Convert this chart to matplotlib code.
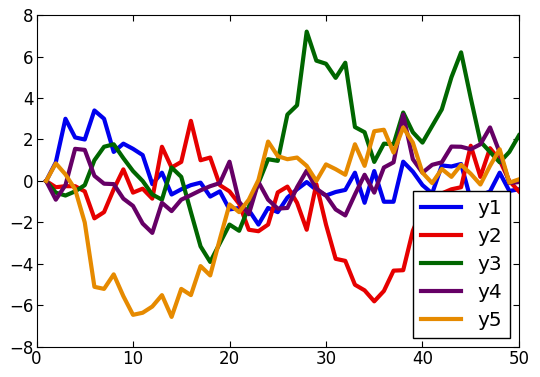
import numpy as np
import matplotlib
matplotlib.use("Agg")
import matplotlib.pyplot as plt

x = np.arange(1, 51)

y1 = [0, 0.9, 3.0, 2.1, 2.0, 3.4, 3.0, 1.4, 1.8, 1.55,
      1.25, -0.15, 0.4, -0.65, -0.4, -0.2, -0.08, -0.75, -0.5, -1.37,
      -1.3, -1.4, -2.1, -1.3, -1.5, -0.8, -0.4, -0.05, -0.43, -0.7,
      -0.53, -0.43, 0.4, -1.05, 0.48, -1.0, -1.0, 0.93, 0.45, -0.2,
      -0.6, 0.75, 0.7, 0.82, -0.9, -0.7, -0.5, 0.4, -0.48, -0.4]
y2 = [0, -0.3, -0.25, -0.25, -0.5, -1.8, -1.5, -0.4, 0.56, -0.56,
      -0.37, -0.85, 1.65, 0.65, 0.92, 2.9, 1.0, 1.13, -0.2, -0.5,
      -1.1, -2.35, -2.42, -2.1, -0.55, -0.27, -1.05, -2.35, -0.15, -2.1,
      -3.75, -3.85, -5.0, -5.27, -5.8, -5.3, -4.32, -4.3, -2.4, -1.3,
      -0.9, -0.6, -0.4, -0.3, 1.7, 0.2, 1.58, 1.0, 0.0, -0.5]
y3 = [0, -0.56, -0.7, -0.5, -0.2, 1.0, 1.65, 1.77, 1.1, 0.48,
      0, -0.65, -0.9, 0.65, 0.2, -1.5, -3.15, -3.9, -3.0, -2.1,
      -2.4, -1.25, -0.1, 1.05, 0.97, 3.2, 3.65, 7.2, 5.8, 5.65,
      4.97, 5.7, 2.6, 2.35, 0.92, 1.8, 1.77, 3.3, 2.35, 1.85,
      2.65, 3.45, 5.0, 6.2, 4.0, 1.9, 1.4, 0.9, 1.4, 2.2]
y4 = [0, -0.9, -0.2, 1.55, 1.5, 0.25, -0.13, -0.15, -0.85, -1.2,
      -2.05, -2.5, -1.05, -1.45, -0.9, -0.68, -0.45, -0.25, -0.1, 0.93,
      -1.0, -1.6, -0.05, -0.9, -1.33, -1.3, -0.3, 0.5, -0.37, -0.7,
      -1.37, -1.66, -0.65, 0.3, -0.56, 0.65, 0.9, 3.2, 1.05, 0.4,
      0.78, 0.9, 1.66, 1.65, 1.53, 1.77, 2.58, 1.37, -0.1, -0.05]
y5 = [0, 0.85, 0.32, -0.4, -2.0, -5.1, -5.2, -4.5, -5.55, -6.45,
      -6.35, -6.05, -5.5, -6.55, -5.2, -5.5, -4.1, -4.55, -2.8, -1.13,
      -1.5, -0.9, 0.05, 1.9, 1.2, 1.05, 1.13, 0.73, 0.0, 0.8,
      0.57, 0.3, 1.77, 0.73, 2.4, 2.47, 1.37, 2.58, 1.85, 0.4,
      -0.1, 0.58, 0.2, 0.78, 0.35, -0.17, 0.73, 1.53, -0.08, 0.08]

series = {"y1": y1, "y2": y2, "y3": y3, "y4": y4, "y5": y5}
colors = ["#0000ee", "#e60000", "#006600", "#660066", "#e68a00"]

fig = plt.figure(figsize=(5.4, 3.77), dpi=100)
ax = fig.add_axes([0.0676, 0.0796, 0.8935, 0.8806])

for (name, ys), c in zip(series.items(), colors):
    ax.plot(x, ys, color=c, lw=3, label=name)

ax.set_xlim(0, 50)
ax.set_ylim(-8, 8)
ax.set_xticks(range(0, 51, 10))
ax.set_yticks(range(-8, 9, 2))
ax.tick_params(direction="in", top=True, right=True, labelsize=12, length=4, pad=2)

leg = ax.legend(loc="lower right", fontsize=14.5, fancybox=False, framealpha=1,
                edgecolor="black", handlelength=2.0, borderaxespad=0.45,
                labelspacing=0.45)
leg.get_frame().set_linewidth(1)

fig.savefig("out.png", dpi=100)
